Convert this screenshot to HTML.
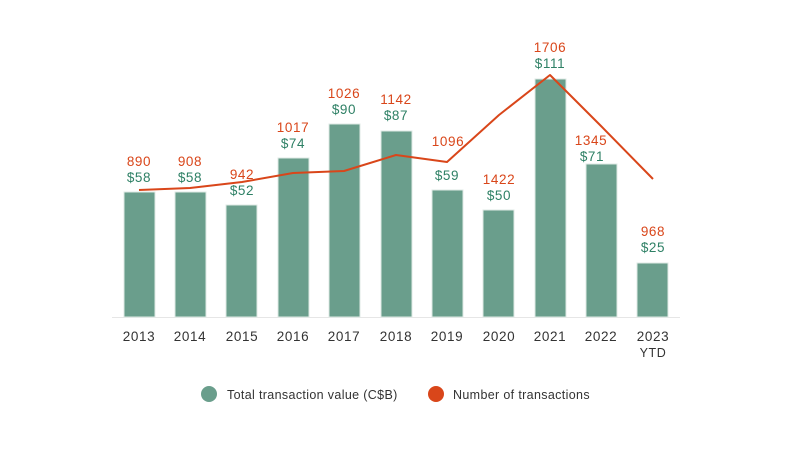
<!DOCTYPE html>
<html><head><style>
body{margin:0;background:#fff;}
svg{display:block;font-family:"Liberation Sans",sans-serif;}
</style></head><body>
<svg width="800" height="453" viewBox="0 0 800 453">
<line x1="112" y1="317.5" x2="680" y2="317.5" stroke="#e6e6e6" stroke-width="1"/>
<g fill="#6a9e8c" stroke="#dfe9e5" stroke-width="1">
<rect x="124" y="192" width="31" height="125"/>
<rect x="175" y="192" width="31" height="125"/>
<rect x="226" y="205" width="31" height="112"/>
<rect x="278" y="158" width="31" height="159"/>
<rect x="329" y="124" width="31" height="193"/>
<rect x="381" y="131" width="31" height="186"/>
<rect x="432" y="190" width="31" height="127"/>
<rect x="483" y="210" width="31" height="107"/>
<rect x="535" y="79" width="31" height="238"/>
<rect x="586" y="164" width="31" height="153"/>
<rect x="637" y="263" width="31" height="54"/>
</g>
<polyline fill="none" stroke="#d9461a" stroke-width="2" stroke-linejoin="round" points="139,190 190,188 242,182 293,173 344,171 396,155 447,162 499,115 550,75 601,126 653,179"/>
<g font-size="13.5" letter-spacing="0.6" text-anchor="middle" fill="#d9461a">
<text x="139" y="166">890</text><text x="190" y="166">908</text><text x="242" y="179">942</text>
<text x="293" y="132">1017</text><text x="344" y="98">1026</text><text x="396" y="104">1142</text>
<text x="448" y="146">1096</text><text x="499" y="184">1422</text><text x="550" y="52">1706</text>
<text x="591" y="145">1345</text><text x="653" y="236">968</text>
</g>
<g font-size="13.5" letter-spacing="0.6" text-anchor="middle" fill="#2e8065">
<text x="139" y="182">$58</text><text x="190" y="182">$58</text><text x="242" y="195">$52</text>
<text x="293" y="148">$74</text><text x="344" y="114">$90</text><text x="396" y="120">$87</text>
<text x="447" y="180">$59</text><text x="499" y="200">$50</text><text x="550" y="68">$111</text>
<text x="592" y="161">$71</text><text x="653" y="252">$25</text>
</g>
<g font-size="13.5" letter-spacing="0.6" text-anchor="middle" fill="#333">
<text x="139" y="341">2013</text><text x="190" y="341">2014</text><text x="242" y="341">2015</text>
<text x="293" y="341">2016</text><text x="344" y="341">2017</text><text x="396" y="341">2018</text>
<text x="447" y="341">2019</text><text x="499" y="341">2020</text><text x="550" y="341">2021</text>
<text x="601" y="341">2022</text><text x="653" y="341">2023</text>
<text x="653" y="357" font-size="12.5">YTD</text>
</g>
<circle cx="209" cy="394" r="8" fill="#6a9e8c"/>
<text x="227" y="399" font-size="12.5" letter-spacing="0.35" fill="#333">Total transaction value (C$B)</text>
<circle cx="436" cy="394" r="8" fill="#d9461a"/>
<text x="453" y="399" font-size="12.5" letter-spacing="0.35" fill="#333">Number of transactions</text>
</svg>
</body></html>
